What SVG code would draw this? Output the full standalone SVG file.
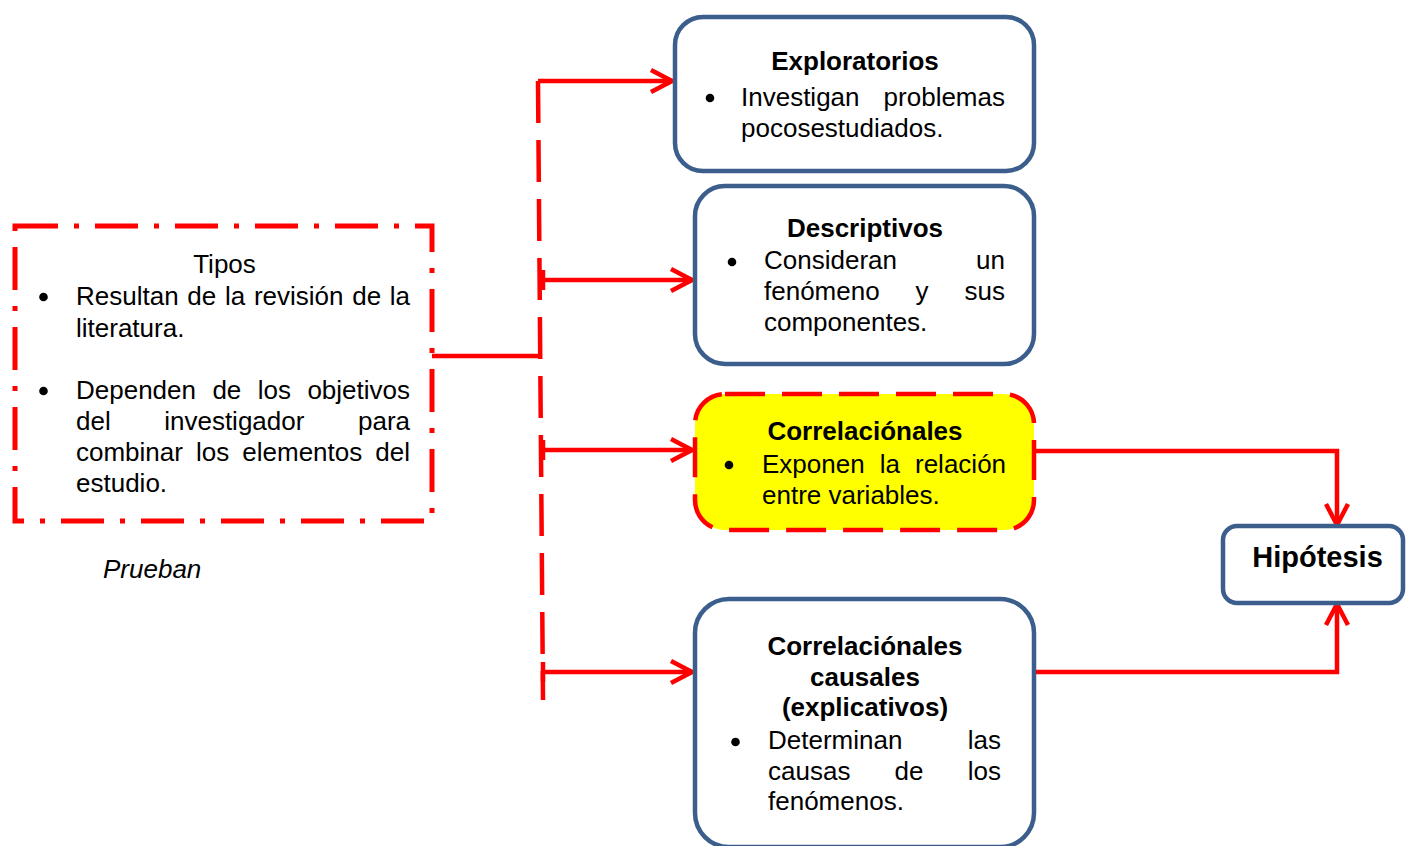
<svg xmlns="http://www.w3.org/2000/svg" width="1406" height="846" viewBox="0 0 1406 846">
<style>
  .t { font-family: "Liberation Sans", Arial, sans-serif; font-size: 26px; fill: #000; }
  .b { font-weight: bold; text-anchor: middle; }
  .h { font-size: 29px; }
  .i { font-style: italic; }
  .box { fill: #fff; stroke: #3B5E8C; stroke-width: 4.5; }
  .con { fill: none; stroke: #FF0000; stroke-width: 4.5; }
  .dot { fill: #000; }
</style>
<defs>
  <marker id="arr" markerUnits="userSpaceOnUse" viewBox="0 0 30 30" markerWidth="30" markerHeight="30" refX="26" refY="15" orient="auto">
    <path d="M5,4 L26,15 L5,26" fill="none" stroke="#FF0000" stroke-width="4.5" stroke-linejoin="miter"/>
  </marker>
</defs>
<rect width="1406" height="846" fill="#fff"/>

<g id="connectors">
  <path class="con" d="M432 356 H538"/>
  <path class="con" d="M538 81 L543 700" stroke-dasharray="42 17"/>
  <path class="con" d="M538 81 H672" marker-end="url(#arr)"/>
  <path class="con" d="M543 270 V290 M543 280 H692" marker-end="url(#arr)"/>
  <path class="con" d="M543 440 V460 M543 450 H692" marker-end="url(#arr)"/>
  <path class="con" d="M543 662 V682 M543 672 H692" marker-end="url(#arr)"/>
  <path class="con" d="M1035 451 H1337 V525" marker-end="url(#arr)"/>
  <path class="con" d="M1035 672 H1337 V604" marker-end="url(#arr)"/>
</g>

<g id="tipos">
  <rect x="15" y="226" width="417" height="295" fill="none" stroke="#FF0000" stroke-width="5" stroke-dasharray="43 16 5 16"/>
  <text class="t" x="224.5" y="273" text-anchor="middle">Tipos</text>
  <circle class="dot" cx="43.5" cy="297" r="4.3"/>
  <text class="t" y="305"><tspan x="76">Resultan</tspan><tspan x="187.3">de</tspan><tspan x="224.9">la</tspan><tspan x="253.9">revisión</tspan><tspan x="352.2">de</tspan><tspan x="389.8">la</tspan></text>
  <text class="t" x="76" y="337">literatura.</text>
  <circle class="dot" cx="43.5" cy="391" r="4.3"/>
  <text class="t" y="399"><tspan x="76">Dependen</tspan><tspan x="212.4">de</tspan><tspan x="257.7">los</tspan><tspan x="307.4">objetivos</tspan></text>
  <text class="t" y="430"><tspan x="76">del</tspan><tspan x="164.2">investigador</tspan><tspan x="358">para</tspan></text>
  <text class="t" y="461"><tspan x="76">combinar</tspan><tspan x="196">los</tspan><tspan x="242.3">elementos</tspan><tspan x="375.3">del</tspan></text>
  <text class="t" x="76" y="492">estudio.</text>
</g>

<g id="prueban">
  <text class="t i" x="103" y="578">Prueban</text>
</g>

<g id="exploratorios">
  <rect class="box" x="675" y="17" width="359" height="154" rx="28"/>
  <text class="t b" x="855" y="70">Exploratorios</text>
  <circle class="dot" cx="710" cy="98" r="4.3"/>
  <text class="t" y="106"><tspan x="741">Investigan</tspan><tspan x="883.6">problemas</tspan></text>
  <text class="t" x="741" y="137">pocosestudiados.</text>
</g>

<g id="descriptivos">
  <rect class="box" x="695" y="186" width="339" height="178" rx="30"/>
  <text class="t b" x="865" y="237">Descriptivos</text>
  <circle class="dot" cx="732" cy="262" r="4.3"/>
  <text class="t" y="269"><tspan x="764">Consideran</tspan><tspan x="976.1">un</tspan></text>
  <text class="t" y="300"><tspan x="764">fenómeno</tspan><tspan x="915.6">y</tspan><tspan x="964.5">sus</tspan></text>
  <text class="t" x="764" y="331">componentes.</text>
</g>

<g id="correlacionales">
  <rect x="695" y="394" width="339" height="136" rx="30" fill="#FFFF00" stroke="#FF0000" stroke-width="4.5" stroke-dasharray="40 17"/>
  <text class="t b" x="865" y="440">Correlaciónales</text>
  <circle class="dot" cx="729" cy="465" r="4.3"/>
  <text class="t" y="473"><tspan x="762">Exponen</tspan><tspan x="879.7">la</tspan><tspan x="915">relación</tspan></text>
  <text class="t" x="762" y="504">entre variables.</text>
</g>

<g id="causales">
  <rect class="box" x="695" y="599" width="339" height="248" rx="34"/>
  <text class="t b" x="865" y="655">Correlaciónales</text>
  <text class="t b" x="865" y="686">causales</text>
  <text class="t b" x="865" y="716">(explicativos)</text>
  <circle class="dot" cx="735.5" cy="742" r="4.3"/>
  <text class="t" y="749"><tspan x="768">Determinan</tspan><tspan x="967.8">las</tspan></text>
  <text class="t" y="780"><tspan x="768">causas</tspan><tspan x="894.6">de</tspan><tspan x="967.8">los</tspan></text>
  <text class="t" x="768" y="810">fenómenos.</text>
</g>

<g id="hipotesis">
  <rect class="box" x="1223" y="526" width="180" height="77" rx="14"/>
  <text class="t b h" x="1317.5" y="567">Hipótesis</text>
</g>
</svg>
